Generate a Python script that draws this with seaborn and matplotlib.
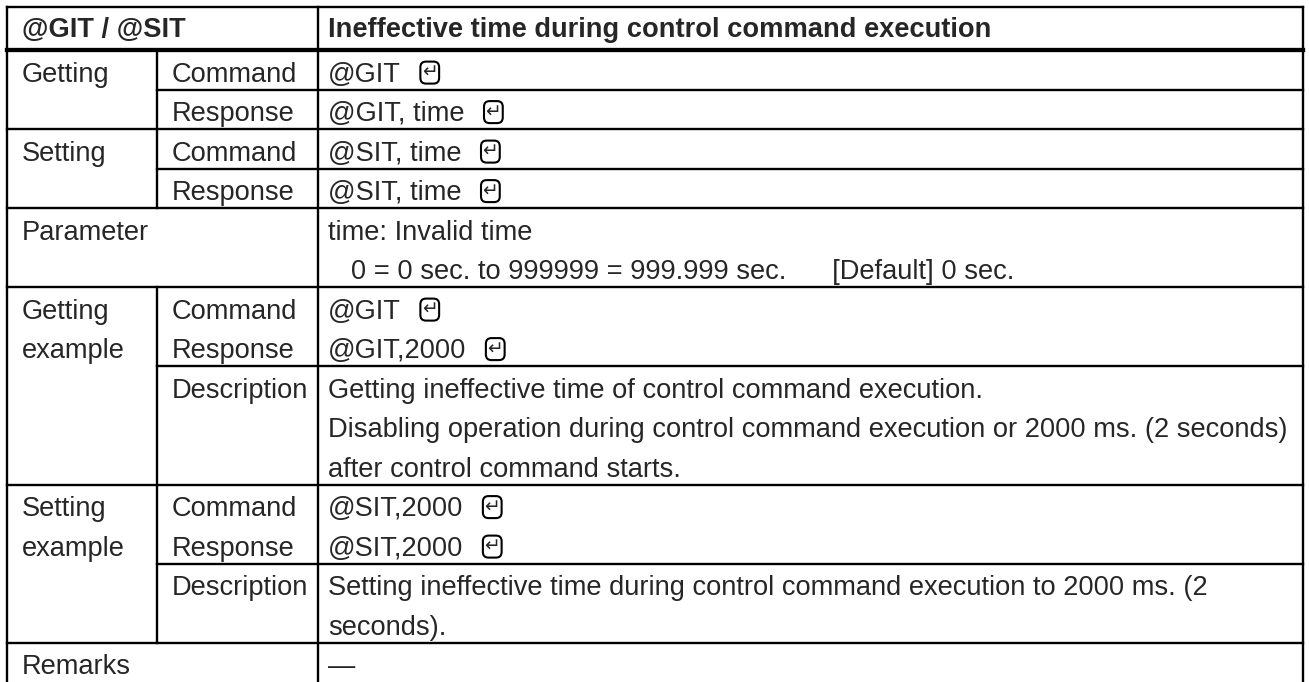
import matplotlib
matplotlib.use('Agg')
import matplotlib.pyplot as plt
import seaborn as sns

# ---- table content ----
header_left = '@GIT / @SIT'
header_right = 'Ineffective time during control command execution'

group_labels = ['Getting', '', 'Setting', '', 'Parameter', '', 'Getting', 'example',
                '', '', '', 'Setting', 'example', '', '', 'Remarks']
item_labels = ['Command', 'Response', 'Command', 'Response', '', '', 'Command', 'Response',
               'Description', '', '', 'Command', 'Response', 'Description', '', '']
content_lines = [
    '@GIT',
    '@GIT, time',
    '@SIT, time',
    '@SIT, time',
    'time: Invalid time',
    '   0 = 0 sec. to 999999 = 999.999 sec.      [Default] 0 sec.',
    '@GIT',
    '@GIT,2000',
    'Getting ineffective time of control command execution.',
    'Disabling operation during control command execution or 2000 ms. (2 seconds)',
    'after control command starts.',
    '@SIT,2000',
    '@SIT,2000',
    'Setting ineffective time during control command execution to 2000 ms. (2',
    'seconds).',
    '\u2014',
]
enter_mark = [True, True, True, True, False, False, True, True,
              False, False, False, True, True, False, False, False]

# rule drawn under each line: 'full' (all columns), 'inner' (from column 2), None
# (the table runs past the bottom of the picture, so the last row stays open)
rule_after = ['inner', 'full', 'inner', 'full', None, 'full', None, 'inner',
              None, None, 'full', None, 'inner', None, 'full', None]
# lines where the first two columns form one cell
merged_lines = [4, 5, 15]

# ---- layout ----
W, H = 1309, 682
x_left, x_col1, x_col2, x_right = 7, 157, 318, 1303
y_top, y_head = 7, 50
pitch = 39.5
fs = 19.6
lw, lw_thick = 1.7, 3.1

sns.set_theme(style='white')
plt.rcParams['font.family'] = ['Liberation Sans', 'DejaVu Sans']

fig = plt.figure(figsize=(W / 100, H / 100), dpi=100)
ax = fig.add_axes([0, 0, 1, 1])
ax.set_xlim(0, W)
ax.set_ylim(H, 0)
ax.axis('off')

n = len(content_lines)
y_end = y_head + n * pitch + 10


def rule(xs, ys, width=lw):
    ax.plot(xs, ys, color='black', lw=width, solid_capstyle='projecting')


# outer frame and column 2 separator
rule([x_left, x_right], [y_top, y_top])
rule([x_left, x_right], [y_head, y_head], lw_thick)
rule([x_left, x_left], [y_top, y_end])
rule([x_right, x_right], [y_top, y_end])
rule([x_col2, x_col2], [y_top, y_end])

# column 1 separator, drawn in continuous runs, skipped where cells are merged
run_start = None
for i in range(n + 1):
    split = i < n and i not in merged_lines
    if split and run_start is None:
        run_start = i
    elif not split and run_start is not None:
        rule([x_col1, x_col1], [y_head + run_start * pitch, y_head + i * pitch])
        run_start = None

# horizontal rules
for i, kind in enumerate(rule_after):
    y = y_head + (i + 1) * pitch
    if kind == 'full':
        rule([x_left, x_right], [y, y])
    elif kind == 'inner':
        rule([x_col1, x_right], [y, y])

# header text
ax.text(x_left + 15, y_top + 30, header_left, fontsize=fs, fontweight='bold',
        va='baseline', ha='left')
ax.text(x_col2 + 10, y_top + 30, header_right, fontsize=fs, fontweight='bold',
        va='baseline', ha='left')

# body text
content_texts = []
for i in range(n):
    yb = y_head + i * pitch + 0.8 * pitch
    if group_labels[i]:
        ax.text(x_left + 15, yb, group_labels[i], fontsize=fs, va='baseline', ha='left')
    if item_labels[i]:
        ax.text(x_col1 + 15, yb, item_labels[i], fontsize=fs, va='baseline', ha='left')
    t = ax.text(x_col2 + 10, yb, content_lines[i], fontsize=fs, va='baseline', ha='left')
    content_texts.append((t, yb))

# enter key marks after commands
fig.canvas.draw()
renderer = fig.canvas.get_renderer()
inv = ax.transData.inverted()
for (t, yb), mark in zip(content_texts, enter_mark):
    if not mark:
        continue
    bb = t.get_window_extent(renderer)
    x_end = inv.transform((bb.x1, bb.y0))[0]
    ax.text(x_end + 21, yb - 9, '\u21b5', fontsize=13.5, family=['DejaVu Sans'],
            va='center', ha='left',
            bbox=dict(boxstyle='round,pad=0.08,rounding_size=0.3', fc='white',
                      ec='black', lw=1.5))

fig.savefig('out.png', dpi=100)
